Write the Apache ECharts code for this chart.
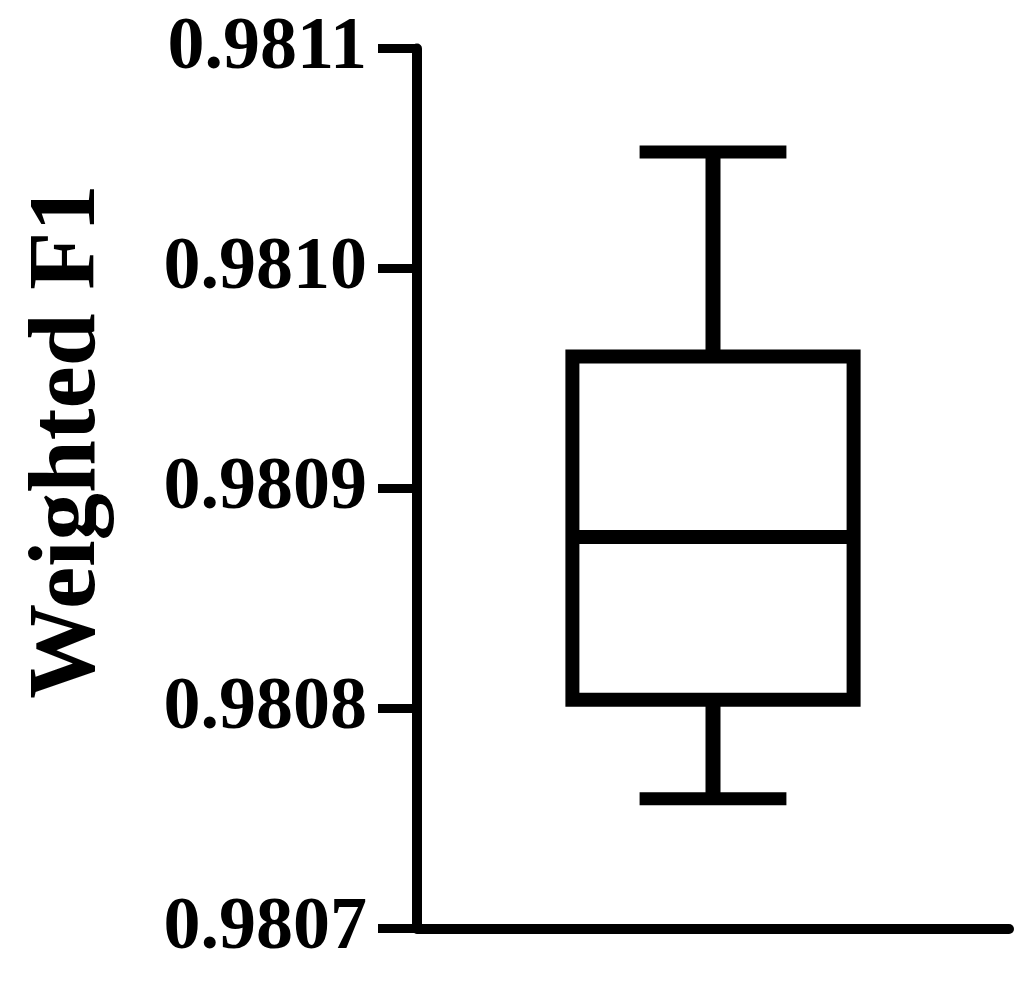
<!DOCTYPE html>
<html>
<head>
<meta charset="utf-8">
<script src="https://cdn.jsdelivr.net/npm/echarts@6/dist/echarts.min.js"></script>
<style>
html, body { margin: 0; padding: 0; background: #fff; }
#main { width: 1026px; height: 982px; }
</style>
</head>
<body>
<div id="main"></div>
<script>
// data
var categories = ['Weighted F1'];
var lowerWhisker = [0.980759];
var q1 = [0.980804];
var median = [0.980878];
var q3 = [0.98096];
var upperWhisker = [0.981053];
var yMin = 0.9807, yMax = 0.9811, yStep = 0.0001;

var font = 'Liberation Serif, Times New Roman, serif';

// one row per box: [x, lo, q1, med, q3, hi]
var boxData = categories.map(function (c, i) {
	return [i, lowerWhisker[i], q1[i], median[i], q3[i], upperWhisker[i]];
});

function renderBox(params, api) {
	var x = api.value(0);
	var lo = api.coord([x, api.value(1)]);
	var b1 = api.coord([x, api.value(2)]);
	var md = api.coord([x, api.value(3)]);
	var b3 = api.coord([x, api.value(4)]);
	var hi = api.coord([x, api.value(5)]);
	var band = api.size([1, 0])[0];
	var halfBox = band * 0.475 / 2;
	var halfCap = band * 0.248 / 2;
	var cx = lo[0];
	var line = { stroke: '#000', lineWidth: 14, fill: null, lineJoin: 'miter' };
	return {
		type: 'group',
		children: [
			// box
			{ type: 'rect', shape: { x: cx - halfBox, y: b3[1], width: halfBox * 2, height: b1[1] - b3[1] }, style: line },
			// median
			{ type: 'line', shape: { x1: cx - halfBox, y1: md[1], x2: cx + halfBox, y2: md[1] }, style: line },
			// whiskers
			{ type: 'line', shape: { x1: cx, y1: b3[1], x2: cx, y2: hi[1] }, style: { stroke: '#000', lineWidth: 15 } },
			{ type: 'line', shape: { x1: cx, y1: b1[1], x2: cx, y2: lo[1] }, style: { stroke: '#000', lineWidth: 15 } },
			// caps
			{ type: 'line', shape: { x1: cx - halfCap, y1: hi[1], x2: cx + halfCap, y2: hi[1] }, style: { stroke: '#000', lineWidth: 13 } },
			{ type: 'line', shape: { x1: cx - halfCap, y1: lo[1], x2: cx + halfCap, y2: lo[1] }, style: { stroke: '#000', lineWidth: 13 } }
		]
	};
}

var chart = echarts.init(document.getElementById('main'));

var option = {
	backgroundColor: '#fff',
	animation: false,
	grid: { left: 417, right: 17, top: 48.5, bottom: 53.5 },
	xAxis: {
		type: 'category',
		data: categories,
		axisLine: { lineStyle: { color: '#000', width: 10 } },
		axisTick: { show: false },
		axisLabel: { show: false },
		splitLine: { show: false }
	},
	yAxis: {
		type: 'value',
		min: yMin,
		max: yMax,
		interval: yStep,
		name: 'Weighted F1',
		nameLocation: 'middle',
		nameGap: 300,
		nameTextStyle: {
			fontFamily: font,
			fontWeight: 'bold',
			fontSize: 95,
			color: '#000',
			padding: [0, 0, 0, 94]
		},
		axisLine: { show: true, lineStyle: { color: '#000', width: 10 } },
		axisTick: { show: true, length: 39, lineStyle: { color: '#000', width: 9 } },
		axisLabel: {
			margin: 50,
			fontFamily: font,
			fontWeight: 'bold',
			fontSize: 74,
			color: '#000',
			formatter: function (v) { return v.toFixed(4); }
		},
		splitLine: { show: false }
	},
	series: [{
		type: 'custom',
		renderItem: renderBox,
		encode: { x: 0, y: [1, 2, 3, 4, 5] },
		data: boxData
	}]
};

chart.setOption(option);
</script>
</body>
</html>
